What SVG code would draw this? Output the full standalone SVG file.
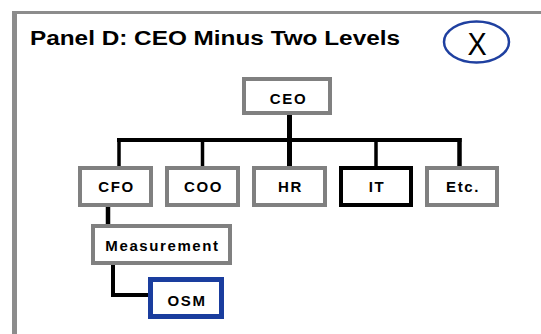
<svg xmlns="http://www.w3.org/2000/svg" width="541" height="334" viewBox="0 0 541 334">
  <style>
    .box { fill: #ffffff; stroke: #808080; stroke-width: 4; }
    .box-dark { fill: #ffffff; stroke: #000000; stroke-width: 4; }
    .box-blue { fill: #ffffff; stroke: #1a3d9e; stroke-width: 5; }
    .label { font-family: "Liberation Sans", Arial, sans-serif; font-weight: bold; font-size: 15px; letter-spacing: 1.6px; text-anchor: middle; fill: #000000; }
    .title { font-family: "Liberation Sans", Arial, sans-serif; font-weight: bold; font-size: 19.5px; fill: #000000; }
    .wire { fill: none; stroke: #000000; stroke-linecap: butt; stroke-linejoin: miter; }
  </style>

  <rect x="0" y="0" width="541" height="334" fill="#ffffff"/>

  <!-- panel frame -->
  <g id="panel-frame">
    <rect x="12" y="11" width="529" height="3" fill="#8c8c8c"/>
    <rect x="12" y="11" width="5" height="323" fill="#8c8c8c"/>
  </g>

  <g id="title">
    <text class="title" x="30" y="45" textLength="370" lengthAdjust="spacingAndGlyphs">Panel D: CEO Minus Two Levels</text>
  </g>

  <g id="close-button">
    <ellipse cx="476.5" cy="42" rx="32.5" ry="20.5" fill="#ffffff" stroke="#1f40a0" stroke-width="2.5"/>
    <text x="477" y="55" font-family="'Liberation Sans', Arial, sans-serif" font-size="32" text-anchor="middle" fill="#000000" transform="translate(477 0) scale(0.9 1) translate(-477 0)">X</text>
  </g>

  <!-- connectors -->
  <g id="connectors">
    <path class="wire" d="M117 140 H461.5" stroke-width="4"/>
    <path class="wire" d="M289.5 115 V166" stroke-width="5"/>
    <path class="wire" d="M119 138 V166" stroke-width="3.5"/>
    <path class="wire" d="M202.5 140 V166" stroke-width="3.5"/>
    <path class="wire" d="M376 140 V166" stroke-width="3.5"/>
    <path class="wire" d="M459.5 138 V166" stroke-width="4.5"/>
    <path class="wire" d="M108 207 V224" stroke-width="4.5"/>
    <path class="wire" d="M113 265 V295 H149" stroke-width="4"/>
  </g>

  <g id="node-ceo">
    <rect class="box" x="244" y="79" width="86" height="34"/>
    <text class="label" x="288.5" y="103.5">CEO</text>
  </g>
  <g id="node-cfo">
    <rect class="box" x="80" y="168" width="71" height="37"/>
    <text class="label" x="116.5" y="192">CFO</text>
  </g>
  <g id="node-coo">
    <rect class="box" x="167" y="168" width="71" height="37"/>
    <text class="label" x="203.5" y="192">COO</text>
  </g>
  <g id="node-hr">
    <rect class="box" x="254" y="168" width="71" height="37"/>
    <text class="label" x="290.5" y="192">HR</text>
  </g>
  <g id="node-it">
    <rect class="box-dark" x="341" y="168" width="70" height="37"/>
    <text class="label" x="377" y="192">IT</text>
  </g>
  <g id="node-etc">
    <rect class="box" x="427" y="168" width="70" height="37"/>
    <text class="label" x="463" y="192">Etc.</text>
  </g>
  <g id="node-measurement">
    <rect class="box" x="93" y="226" width="137" height="37"/>
    <text class="label" x="162.5" y="251">Measurement</text>
  </g>
  <g id="node-osm">
    <rect class="box-blue" x="150.5" y="279.5" width="71" height="37"/>
    <text class="label" x="187" y="306">OSM</text>
  </g>
</svg>
